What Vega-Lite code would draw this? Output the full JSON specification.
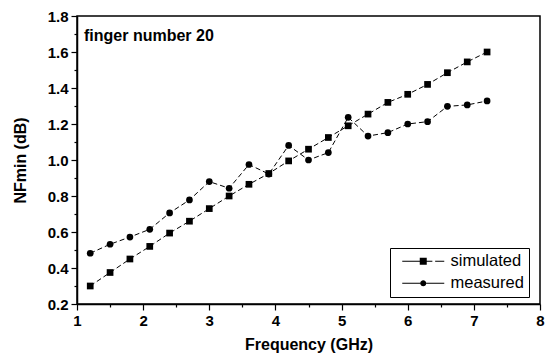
{
  "$schema": "https://vega.github.io/schema/vega-lite/v6.json",
  "width": 463,
  "height": 288,
  "autosize": "none",
  "padding": {"left": 77, "top": 16, "right": 6, "bottom": 49},
  "background": "white",
  "config": {
    "view": {"stroke": "black", "strokeWidth": 1.5},
    "font": "Liberation Sans",
    "axis": {
      "grid": false,
      "domainColor": "black",
      "domainWidth": 1.5,
      "tickColor": "black",
      "tickWidth": 1.2,
      "labelColor": "black",
      "labelFont": "Liberation Sans",
      "labelFontWeight": "bold",
      "labelFontSize": 15,
      "titleColor": "black",
      "titleFont": "Liberation Sans",
      "titleFontWeight": "bold",
      "titleFontSize": 16
    }
  },
  "data": {
    "values": [
      {"f": 1.2, "nf": 0.30, "series": "simulated"},
      {"f": 1.5, "nf": 0.375, "series": "simulated"},
      {"f": 1.8, "nf": 0.45, "series": "simulated"},
      {"f": 2.1, "nf": 0.52, "series": "simulated"},
      {"f": 2.4, "nf": 0.594, "series": "simulated"},
      {"f": 2.7, "nf": 0.66, "series": "simulated"},
      {"f": 3.0, "nf": 0.73, "series": "simulated"},
      {"f": 3.3, "nf": 0.80, "series": "simulated"},
      {"f": 3.6, "nf": 0.865, "series": "simulated"},
      {"f": 3.9, "nf": 0.925, "series": "simulated"},
      {"f": 4.2, "nf": 0.995, "series": "simulated"},
      {"f": 4.5, "nf": 1.06, "series": "simulated"},
      {"f": 4.8, "nf": 1.125, "series": "simulated"},
      {"f": 5.1, "nf": 1.19, "series": "simulated"},
      {"f": 5.4, "nf": 1.255, "series": "simulated"},
      {"f": 5.7, "nf": 1.32, "series": "simulated"},
      {"f": 6.0, "nf": 1.365, "series": "simulated"},
      {"f": 6.3, "nf": 1.42, "series": "simulated"},
      {"f": 6.6, "nf": 1.485, "series": "simulated"},
      {"f": 6.9, "nf": 1.545, "series": "simulated"},
      {"f": 7.2, "nf": 1.60, "series": "simulated"},
      {"f": 1.2, "nf": 0.482, "series": "measured"},
      {"f": 1.5, "nf": 0.532, "series": "measured"},
      {"f": 1.8, "nf": 0.572, "series": "measured"},
      {"f": 2.1, "nf": 0.615, "series": "measured"},
      {"f": 2.4, "nf": 0.706, "series": "measured"},
      {"f": 2.7, "nf": 0.778, "series": "measured"},
      {"f": 3.0, "nf": 0.88, "series": "measured"},
      {"f": 3.3, "nf": 0.843, "series": "measured"},
      {"f": 3.6, "nf": 0.975, "series": "measured"},
      {"f": 3.9, "nf": 0.922, "series": "measured"},
      {"f": 4.2, "nf": 1.081, "series": "measured"},
      {"f": 4.5, "nf": 1.0, "series": "measured"},
      {"f": 4.8, "nf": 1.041, "series": "measured"},
      {"f": 5.1, "nf": 1.237, "series": "measured"},
      {"f": 5.4, "nf": 1.133, "series": "measured"},
      {"f": 5.7, "nf": 1.152, "series": "measured"},
      {"f": 6.0, "nf": 1.2, "series": "measured"},
      {"f": 6.3, "nf": 1.213, "series": "measured"},
      {"f": 6.6, "nf": 1.298, "series": "measured"},
      {"f": 6.9, "nf": 1.306, "series": "measured"},
      {"f": 7.2, "nf": 1.328, "series": "measured"}
    ]
  },
  "layer": [
    {
      "mark": {"type": "line", "color": "black", "strokeWidth": 1, "strokeDash": [5, 3]},
      "encoding": {
        "x": {
          "field": "f", "type": "quantitative",
          "scale": {"domain": [1, 8], "nice": false, "zero": false},
          "axis": {
            "values": [1, 2, 3, 4, 5, 6, 7, 8],
            "title": "Frequency (GHz)",
            "tickSize": 6,
            "labelPadding": 3,
            "labelFlush": false,
            "titleY": 45,
            "titleBaseline": "alphabetic"
          }
        },
        "y": {
          "field": "nf", "type": "quantitative",
          "scale": {"domain": [0.2, 1.8], "nice": false, "zero": false},
          "axis": {
            "values": [0.2, 0.4, 0.6, 0.8, 1.0, 1.2, 1.4, 1.6, 1.8],
            "format": ".1f",
            "title": "NFmin (dB)",
            "tickSize": 6,
            "labelPadding": 3,
            "labelFlush": false,
            "titleX": -52,
            "titleBaseline": "alphabetic"
          }
        },
        "detail": {"field": "series", "type": "nominal"}
      }
    },
    {
      "mark": {"type": "point", "filled": true, "color": "black", "size": 45, "opacity": 1},
      "encoding": {
        "x": {
          "field": "f", "type": "quantitative",
          "axis": {
            "orient": "bottom",
            "values": [1.5, 2.5, 3.5, 4.5, 5.5, 6.5, 7.5],
            "labels": false, "domain": false, "title": null, "tickSize": 3
          }
        },
        "y": {
          "field": "nf", "type": "quantitative",
          "axis": {
            "orient": "left",
            "values": [0.3, 0.5, 0.7, 0.9, 1.1, 1.3, 1.5, 1.7],
            "labels": false, "domain": false, "title": null, "tickSize": 3
          }
        },
        "shape": {
          "field": "series", "type": "nominal",
          "scale": {"domain": ["simulated", "measured"], "range": ["square", "circle"]},
          "legend": null
        }
      }
    },
    {
      "mark": {"type": "point", "filled": true, "color": "black", "size": 0, "opacity": 0},
      "encoding": {
        "x": {"field": "f", "type": "quantitative", "axis": null},
        "y": {"field": "nf", "type": "quantitative", "axis": null},
        "shape": {
          "field": "series", "type": "nominal",
          "scale": {
            "domain": ["simulated", "measured"],
            "range": [
              "M-3,-0.07H-0.5V0.07H-3Z M-0.5,-0.5H0.5V0.5H-0.5Z M0.5,-0.07H1.3V0.07H0.5Z M1.7,-0.07H3V0.07H1.7Z",
              "M-3,-0.07H-0.43V0.07H-3Z M0.43,-0.07H3V0.07H0.43Z M0.43,0A0.43,0.43,0,1,1,-0.43,0A0.43,0.43,0,1,1,0.43,0Z"
            ]
          },
          "legend": {
            "orient": "none",
            "legendX": 313,
            "legendY": 232,
            "title": null,
            "padding": 5,
            "strokeColor": "black",
            "fillColor": "white",
            "symbolSize": 196,
            "symbolOpacity": 1,
            "symbolFillColor": "black",
            "symbolStrokeColor": "black",
            "symbolStrokeWidth": 0,
            "symbolOffset": 20,
            "labelOffset": 19,
            "rowPadding": 5,
            "labelFont": "Liberation Sans",
            "labelFontSize": 16.5,
            "labelColor": "black"
          }
        }
      }
    },
    {
      "data": {"values": [{"label": "finger number 20"}]},
      "mark": {
        "type": "text",
        "align": "left",
        "baseline": "alphabetic",
        "dx": 7,
        "dy": 25,
        "font": "Liberation Sans",
        "fontSize": 16,
        "fontWeight": "bold",
        "color": "black"
      },
      "encoding": {
        "x": {"datum": 1, "type": "quantitative", "axis": null},
        "y": {"datum": 1.8, "type": "quantitative", "axis": null},
        "text": {"field": "label", "type": "nominal"}
      }
    }
  ],
  "resolve": {
    "axis": {"x": "independent", "y": "independent"},
    "scale": {"shape": "independent"}
  }
}
